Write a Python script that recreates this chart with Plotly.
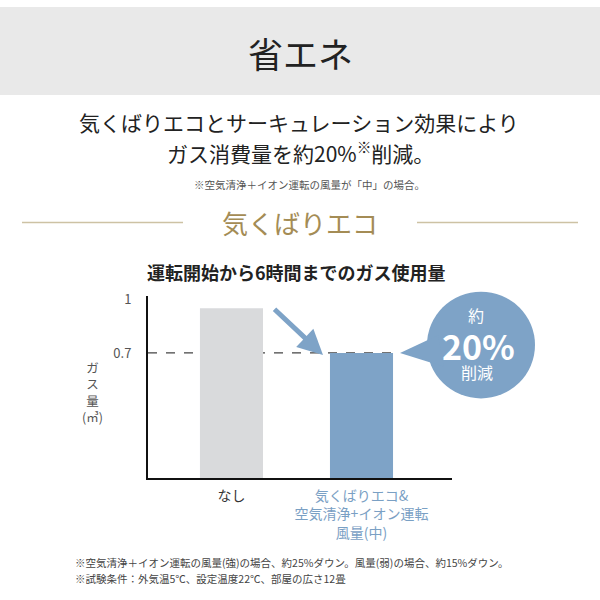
import plotly.graph_objects as go

# ---- data ----
categories = ["なし", "気くばりエコ&<br>空気清浄+イオン運転<br>風量(中)"]
gas_usage = [0.95, 0.7]
y_tick_values = [0.7, 1]
y_tick_labels = ["0.7", "1"]
reference_level = 0.7

# ---- styles ----
FONT = "Noto Sans CJK JP"
BLUE = "#7ea3c7"
GRAY_BAR = "#d9dadc"
GOLD = "#a48c55"
GOLD_LINE = "#cdc2a4"
bar_colors = [GRAY_BAR, BLUE]
label_colors = ["#333333", "#7aa0c4"]
BAR_W = 0.485

W = H = 600


def px(x):
    return x / W


def py(y):
    return 1 - y / H


x_pos = list(range(len(categories)))
tick_text = [f"<span style='color:{c}'>{t}</span>" for t, c in zip(categories, label_colors)]

fig = go.Figure()
fig.add_trace(go.Bar(
    x=x_pos, y=gas_usage, width=BAR_W,
    marker=dict(color=bar_colors, line=dict(width=0)),
    hoverinfo="skip",
))

X_RANGE = [-0.642, 1.696]

fig.update_layout(
    width=W, height=H,
    margin=dict(l=0, r=0, t=0, b=0),
    paper_bgcolor="white", plot_bgcolor="white",
    font=dict(family=FONT, color="#222"),
    showlegend=False,
    xaxis=dict(
        domain=[px(148), px(452)],
        range=X_RANGE,
        tickvals=x_pos, ticktext=tick_text,
        tickfont=dict(size=14, family=FONT),
        showgrid=False, zeroline=False,
        showline=True, linecolor="#111", linewidth=2,
        ticks="", ticklabelstandoff=4, fixedrange=True,
    ),
    yaxis=dict(
        domain=[py(477), py(292)],
        range=[0, 1.02],
        tickvals=y_tick_values, ticktext=y_tick_labels,
        tickfont=dict(size=13, color="#555", family=FONT),
        showgrid=False, zeroline=False,
        showline=True, linecolor="#111", linewidth=2,
        ticks="", ticklabelstandoff=12, fixedrange=True,
    ),
)

shapes = []
# header band
shapes.append(dict(type="rect", xref="paper", yref="paper", x0=0, x1=1, y0=py(89), y1=1,
                   fillcolor="#e9e9e9", line=dict(width=0), layer="below"))
# gold lines
for x0, x1 in [(22, 183), (417, 578)]:
    shapes.append(dict(type="line", xref="paper", yref="paper", x0=px(x0), x1=px(x1),
                       y0=py(218), y1=py(218), line=dict(color=GOLD_LINE, width=1.5)))
# dashed reference line
shapes.append(dict(type="line", xref="x", yref="y", x0=X_RANGE[0], x1=x_pos[1] + BAR_W / 2,
                   y0=reference_level, y1=reference_level,
                   line=dict(color="#444", width=1.3, dash="dash"), layer="below"))
# bubble
cx, cy, r = 481, 342, 54
shapes.append(dict(type="circle", xref="paper", yref="paper",
                   x0=px(cx - r), x1=px(cx + r), y0=py(cy + r), y1=py(cy - r),
                   fillcolor=BLUE, line=dict(width=0)))
path = f"M {px(400)},{py(350)} L {px(438)},{py(332)} L {px(444)},{py(364)} Z"
shapes.append(dict(type="path", xref="paper", yref="paper", path=path,
                   fillcolor=BLUE, line=dict(width=0)))
fig.update_layout(shapes=shapes)

ann = []


def text(x, y, s, size, color="#222", bold=False, xanchor="center"):
    if bold:
        s = f"<b>{s}</b>"
    ann.append(dict(x=px(x), y=py(y), xref="paper", yref="paper", text=s, showarrow=False,
                    xanchor=xanchor, yanchor="middle",
                    font=dict(size=size, color=color, family=FONT)))


text(300, 46, "省エネ", 35, "#222")
text(299, 116, "気くばりエコとサーキュレーション効果により", 21, "#222")
text(300, 147, "ガス消費量を約20%<sup>※</sup>削減。", 21, "#222")
text(309, 180, "※空気清浄＋イオン運転の風量が「中」の場合。", 10.5, "#555")
text(300, 218, "気くばりエコ", 26, GOLD)
text(296, 268, "運転開始から6時間までのガス使用量", 18, "#222", bold=True)
text(92, 390, "ガ<br>ス<br>量<br>(㎥)", 12.5, "#555")
text(476, 312, "約", 16, "white")
text(478, 342, "20%", 34, "white", bold=True)
text(477, 369, "削減", 16, "white")
text(73, 562, "※空気清浄＋イオン運転の風量(強)の場合、約25%ダウン。風量(弱)の場合、約15%ダウン。", 10.5, "#444", xanchor="left")
text(73, 578, "※試験条件：外気温5℃、設定温度22℃、部屋の広さ12畳", 10.5, "#444", xanchor="left")

# arrow
ann.append(dict(x=px(323), y=py(352), xref="paper", yref="paper", ax=-50, ay=-47,
                text="", showarrow=True, arrowhead=2, arrowsize=1, arrowwidth=5,
                arrowcolor=BLUE, standoff=0))
fig.update_layout(annotations=ann)

fig.write_html("out.html", config={"displayModeBar": False},
               post_script="document.body.style.margin='0';")
